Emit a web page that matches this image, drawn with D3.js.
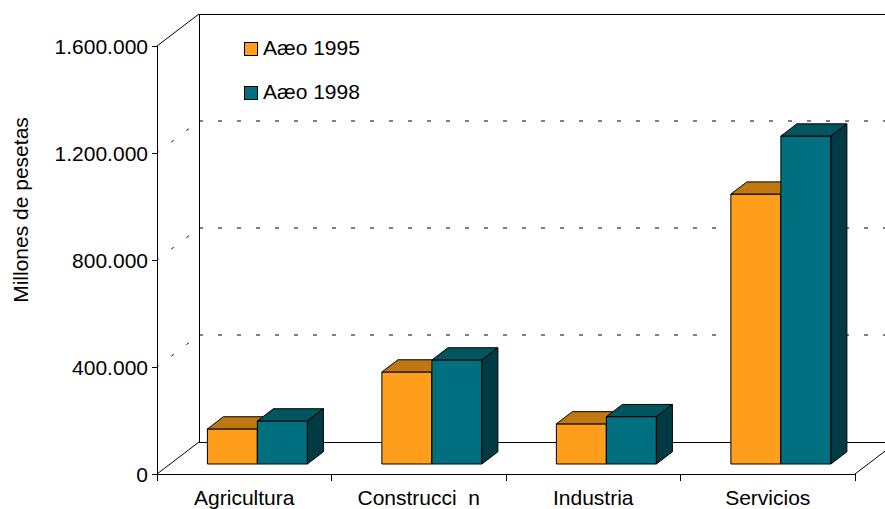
<!DOCTYPE html>
<html>
<head>
<meta charset="utf-8">
<script src="https://cdn.jsdelivr.net/npm/d3@7/dist/d3.min.js"></script>
<style>
  html, body { margin: 0; padding: 0; background: #fff; }
  svg { display: block; }
  text { font-family: "Liberation Sans", Arial, sans-serif; fill: #000; }
</style>
</head>
<body>
<svg id="chart" width="885" height="509"></svg>
<script>
// ---- data ----
const categories = ["Agricultura", "Construcci\u00a0\u00a0n", "Industria", "Servicios"];
const seriesNames = ["1995", "1998"];
const legendLabels = ["Aæo 1995", "Aæo 1998"];
const values1995 = [131000, 344000, 150000, 1009000];
const values1998 = [161000, 389000, 177000, 1226000];
const yTicks = [0, 400000, 800000, 1200000, 1600000];
const gridTicks = [400000, 800000, 1200000];
const yTitle = "Millones de pesetas";

// ---- styling / geometry ----
const colors = {
  "1995": { front: "#FF9E1B", top: "#BF770F", side: "#8A5508" },
  "1998": { front: "#007080", top: "#00555F", side: "#003B43" }
};
const DX = 42, DY = -32;         // full depth offset
const F0 = 0.3125, F1 = 0.694;   // bar depth fractions

const svg = d3.select("#chart");
const x0 = d3.scaleBand().domain(categories).range([157, 855]);
const inner = d3.scaleBand().domain(seriesNames).range([0, 100]);
const y = d3.scaleLinear().domain([0, 1600000]).range([474, 46]);
const P = (x, yy, f) => [x + DX * f, yy + DY * f];

const fmt = d3.formatLocale({ decimal: ",", thousands: ".", grouping: [3], currency: ["", ""] }).format(",d");

const g = svg.append("g");
const line = (a, b, dash) => {
  const l = g.append("line")
    .attr("x1", a[0]).attr("y1", a[1]).attr("x2", b[0]).attr("y2", b[1])
    .attr("stroke", "#000").attr("stroke-width", 1).attr("shape-rendering", dash ? "auto" : "crispEdges");
  if (dash) l.attr("stroke-dasharray", dash);
  return l;
};

const xL = x0.range()[0], xR = x0.range()[1];
const yTop = y(1600000), yBot = y(0);

// gridlines on back wall
gridTicks.forEach(t => {
  line(P(xL, y(t), 1), P(xR, y(t), 1), "4,15");
  line(P(xL, y(t), 0), P(xL, y(t), 1), "3,16").attr("stroke-dashoffset", 1);
});

// walls and floor
line(P(xL, yTop, 1), P(xR, yTop, 1));
line(P(xL, yTop, 1), P(xL, yBot, 1));
line(P(xL, yBot, 1), P(xR, yBot, 1));
line(P(xL, yTop, 0), P(xL, yTop, 1), "none");
line(P(xL, yBot, 0), P(xL, yBot, 1), "none");
line(P(xR, yBot, 0), P(xR, yBot, 1), "none");
line([xL, yTop], [xL, yBot]);
line([xL, yBot], [xR, yBot]);

// y ticks + labels
yTicks.forEach(t => {
  line([xL - 5, y(t)], [xL, y(t)]);
  g.append("text").attr("x", xL - 9).attr("y", y(t)).attr("dy", "0.36em")
    .attr("text-anchor", "end").attr("font-size", 21).text(fmt(t));
});

// x ticks + labels
const bounds = categories.map(c => x0(c)).concat([xR]);
bounds.forEach(b => line([b, yBot], [b, yBot + 7]));
categories.forEach(c => {
  g.append("text").attr("x", x0(c) + x0.bandwidth() / 2).attr("y", 505)
    .attr("text-anchor", "middle").attr("font-size", 21).text(c);
});

// y title
g.append("text").attr("transform", "translate(28,210) rotate(-90)")
  .attr("text-anchor", "middle").attr("font-size", 21).text(yTitle);

// bars
const dataBySeries = { "1995": values1995, "1998": values1998 };
const poly = (pts, fill) => g.append("polygon")
  .attr("points", pts.map(p => p.join(",")).join(" "))
  .attr("fill", fill).attr("stroke", "#000").attr("stroke-width", 1).attr("stroke-linejoin", "miter");

categories.forEach((c, i) => {
  const groupStart = x0(c) + (x0.bandwidth() - inner.range()[1]) / 2;
  seriesNames.forEach(s => {
    const v = dataBySeries[s][i];
    const xa = groupStart + inner(s), xb = xa + inner.bandwidth();
    const yv = y(v), y0 = y(0);
    const col = colors[s];
    poly([P(xa, y0, F0), P(xb, y0, F0), P(xb, yv, F0), P(xa, yv, F0)], col.front);
    poly([P(xa, yv, F0), P(xb, yv, F0), P(xb, yv, F1), P(xa, yv, F1)], col.top);
    poly([P(xb, y0, F0), P(xb, y0, F1), P(xb, yv, F1), P(xb, yv, F0)], col.side);
  });
});

// legend
seriesNames.forEach((s, i) => {
  const ly = 42 + i * 44;
  g.append("rect").attr("x", 244.5).attr("y", ly + 0.5).attr("width", 13).attr("height", 13)
    .attr("fill", colors[s].front).attr("stroke", "#000").attr("stroke-width", 1);
  g.append("text").attr("x", 263).attr("y", ly + 12.5).attr("font-size", 21).text(legendLabels[i]);
});
</script>
</body>
</html>
